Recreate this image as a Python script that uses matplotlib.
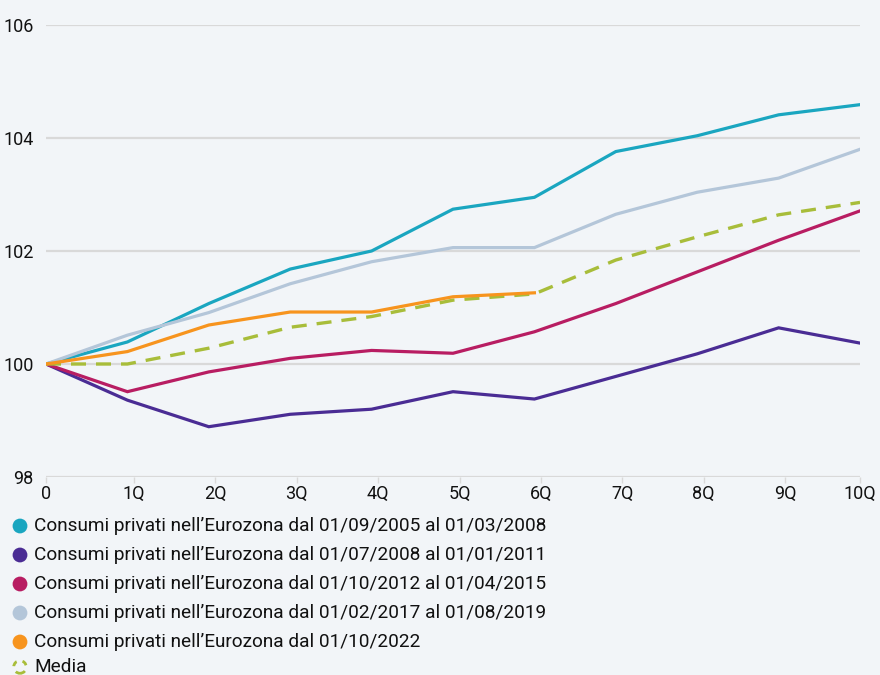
import numpy as np
import matplotlib
matplotlib.use('Agg')
import matplotlib.pyplot as plt
from matplotlib.patches import Circle

# Consumi privati nell'Eurozona, indice = 100 all'inizio di ogni fase
trimestri = ['0', '1Q', '2Q', '3Q', '4Q', '5Q', '6Q', '7Q', '8Q', '9Q', '10Q']

fase_2005 = [100, 100.39, 101.07, 101.68, 102.00, 102.74, 102.95, 103.76, 104.04, 104.41, 104.59]
fase_2008 = [100, 99.36, 98.89, 99.11, 99.20, 99.51, 99.38, 99.78, 100.18, 100.64, 100.37]
fase_2012 = [100, 99.51, 99.86, 100.10, 100.24, 100.19, 100.57, 101.07, 101.63, 102.19, 102.71]
fase_2017 = [100, 100.51, 100.91, 101.42, 101.81, 102.06, 102.06, 102.65, 103.04, 103.29, 103.80]
fase_2022 = [100, 100.22, 100.69, 100.92, 100.92, 101.19, 101.26]
media = [100, 100.00, 100.28, 100.65, 100.84, 101.13, 101.24, 101.84, 102.25, 102.64, 102.86]

etichette = [
    'Consumi privati nell\u2019Eurozona dal 01/09/2005 al 01/03/2008',
    'Consumi privati nell\u2019Eurozona dal 01/07/2008 al 01/01/2011',
    'Consumi privati nell\u2019Eurozona dal 01/10/2012 al 01/04/2015',
    'Consumi privati nell\u2019Eurozona dal 01/02/2017 al 01/08/2019',
    'Consumi privati nell\u2019Eurozona dal 01/10/2022',
    'Media',
]
colori = ['#1aa6c0', '#4a2c94', '#b81d62', '#b4c6d9', '#f7941e', '#a8bd3a']
serie = [fase_2005, fase_2008, fase_2012, fase_2017, fase_2022, media]

sfondo = '#f2f5f8'
plt.rcParams['font.family'] = ['Roboto', 'DejaVu Sans']

fig = plt.figure(figsize=(8.8, 6.75), dpi=100, facecolor=sfondo)
ax = fig.add_axes([46 / 880, 1 - 477 / 675, 814 / 880, 452 / 675])
ax.set_facecolor(sfondo)

for valori, colore, nome in zip(serie, colori, etichette):
    x = np.arange(len(valori))
    if nome == 'Media':
        ax.plot(x, valori, color=colore, lw=2.4, ls=(0, (4.5, 3)), zorder=3)
    else:
        ax.plot(x, valori, color=colore, lw=2.3, zorder=4 if colore == '#f7941e' else 3,
                solid_joinstyle='miter')

ax.set_xlim(0, 10)
ax.set_ylim(98, 106)
ax.set_yticks([98, 100, 102, 104, 106])
ax.grid(axis='y', color='#d9d9d9', lw=1.6)
ax.set_axisbelow(True)

# le etichette dell'asse x sono leggermente a destra dei punti
pos_tick = np.arange(len(trimestri)) + 0.08
pos_tick[0] = 0
pos_tick[-1] = 10
ax.set_xticks(pos_tick)
ax.set_xticklabels(trimestri)

for lato in ['top', 'right', 'left', 'bottom']:
    ax.spines[lato].set_visible(False)
ax.tick_params(axis='y', length=0, pad=9, labelsize=13, labelcolor='#111111')
ax.tick_params(axis='x', length=4, width=1, color='#d9d9d9', pad=2,
               labelsize=13, labelcolor='#111111')

# legenda disegnata a mano, sotto al grafico
righe_y = [526, 555, 584, 613, 642, 667]
for nome, colore, y in zip(etichette, colori, righe_y):
    centro = (20 / 100, (675 - y) / 100)
    if nome == 'Media':
        marker = Circle(centro, 6.3 / 100, transform=fig.dpi_scale_trans,
                        facecolor='none', edgecolor=colore, lw=2, ls=(0, (2, 2.2)))
    else:
        marker = Circle(centro, 7.4 / 100, transform=fig.dpi_scale_trans,
                        facecolor=colore, edgecolor='none')
    fig.patches.append(marker)
    fig.text(34 / 880, 1 - y / 675, nome, fontsize=13.7, color='#111111',
             va='center', ha='left')

fig.savefig('out.png', dpi=100, facecolor=sfondo)
